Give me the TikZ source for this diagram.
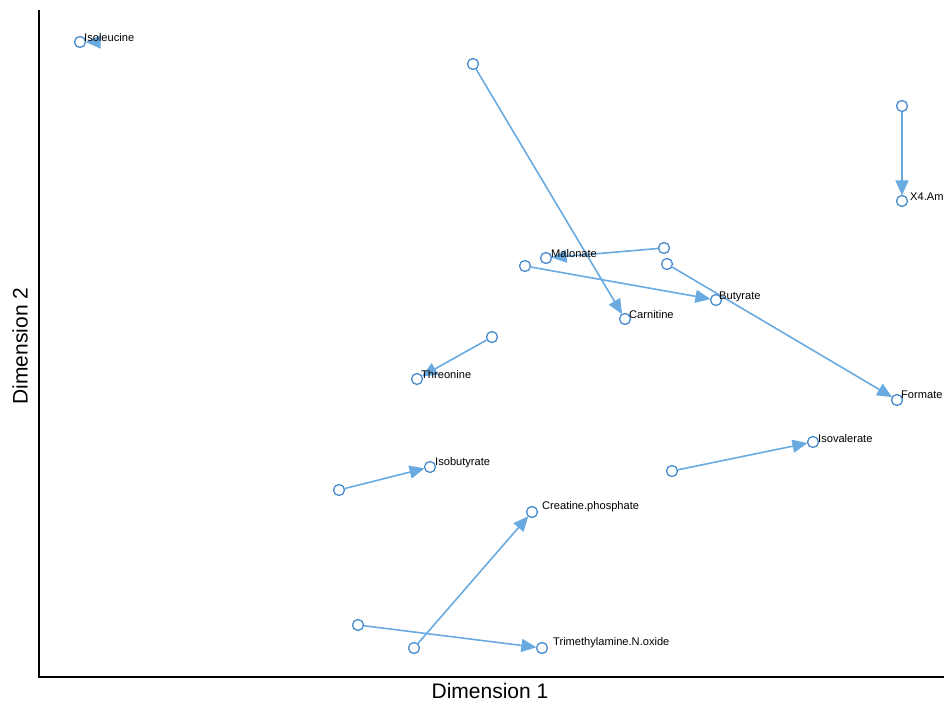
\documentclass[tikz,border=0pt]{standalone}
\usepackage{fontspec}
\setmainfont{Liberation Sans}
\usetikzlibrary{arrows.meta}
\definecolor{ptblue}{RGB}{70,140,205}
\definecolor{arblue}{RGB}{105,170,225}
\tikzset{
  pt/.style={circle,draw=ptblue,line width=1.3pt,fill=white,minimum size=11pt,inner sep=0pt},
  lab/.style={anchor=west,inner sep=0pt,font=\fontsize{11.1}{13}\selectfont},
  mv/.style={draw=arblue,line width=1.6pt,-{Triangle[length=15pt,width=13pt]},shorten >=-0.5pt},
  axt/.style={font=\fontsize{21}{24}\selectfont}
}
\begin{document}
\begin{tikzpicture}[x=1pt,y=-1pt]
\useasboundingbox (0,0) rectangle (944,703);
\draw[line width=1.3pt] (39,10) -- (39,677) -- (944,677);
\node[axt] (xl) at (490,691) {Dimension 1};
\node[axt,rotate=90] (yl) at (20,346) {Dimension 2};
% start points
\coordinate (s1) at (94,42);
\node[pt] (s2) at (473,64) {};
\node[pt] (s3) at (902,106) {};
\node[pt] (s4) at (664,248) {};
\node[pt] (s5) at (525,266) {};
\node[pt] (s6) at (667,264) {};
\node[pt] (s7) at (492,337) {};
\node[pt] (s8) at (339,490) {};
\node[pt] (s9) at (672,471) {};
\node[pt] (s10) at (414,648) {};
\node[pt] (s11) at (358,625) {};
% end points
\node[pt] (e1) at (80,42) {};
\node[pt] (e2) at (625,319) {};
\node[pt] (e3) at (902,201) {};
\node[pt] (e4) at (546,258) {};
\node[pt] (e5) at (716,300) {};
\node[pt] (e6) at (897,400) {};
\node[pt] (e7) at (417,379) {};
\node[pt] (e8) at (430,467) {};
\node[pt] (e9) at (813,442) {};
\node[pt] (e10) at (532,512) {};
\node[pt] (e11) at (542,648) {};
% arrows
\draw[mv] (s1) -- (e1);
\draw[mv] (s2) -- (e2);
\draw[mv] (s3) -- (e3);
\draw[mv] (s4) -- (e4);
\draw[mv] (s5) -- (e5);
\draw[mv] (s6) -- (e6);
\draw[mv] (s7) -- (e7);
\draw[mv] (s8) -- (e8);
\draw[mv] (s9) -- (e9);
\draw[mv] (s10) -- (e10);
\draw[mv] (s11) -- (e11);
% labels
\node[lab] (l1) at (84,38) {Isoleucine};
\node[lab] (l2) at (629,315) {Carnitine};
\node[lab] (l3) at (910,197) {X4.Am};
\node[lab] (l4) at (551,254) {Malonate};
\node[lab] (l5) at (719,297) {Butyrate};
\node[lab] (l6) at (901,395) {Formate};
\node[lab] (l7) at (421,375) {Threonine};
\node[lab] (l8) at (435,463) {Isobutyrate};
\node[lab] (l9) at (818,439) {Isovalerate};
\node[lab] (l10) at (542,507) {Creatine.phosphate};
\node[lab] (l11) at (553,643) {Trimethylamine.N.oxide};
\end{tikzpicture}
\end{document}
